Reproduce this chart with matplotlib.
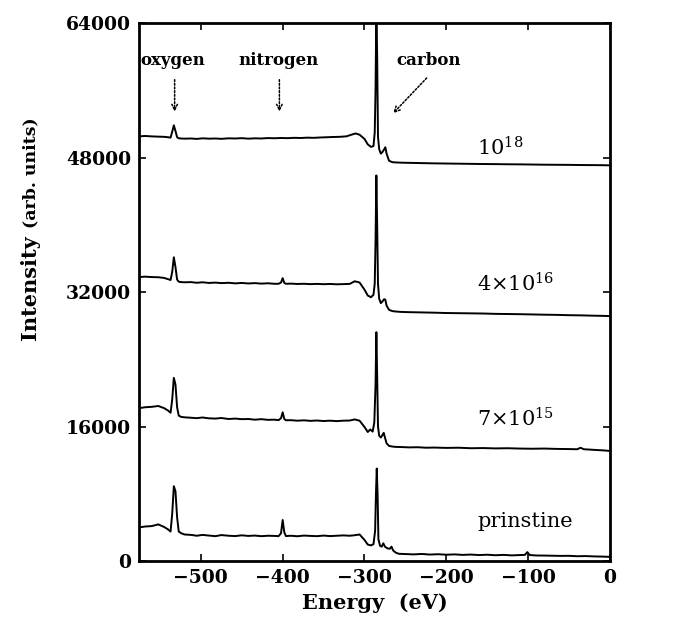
import matplotlib
matplotlib.use("Agg")
import matplotlib.pyplot as plt

# ---------------- data ----------------
# pristine
e_pristine = [-575, -568, -560, -552, -545, -540, -537, -535, -533, -531, -529, -527, -524, -520,
              -512, -505, -498, -490, -482, -475, -466, -458, -450, -442, -434, -426, -418, -410,
              -405, -402, -400, -398, -396, -390, -382, -374, -366, -358, -350, -342, -334, -326,
              -318, -312, -306, -300, -296, -292, -289, -287, -286, -285, -284, -283, -281, -279,
              -277, -275, -272, -269, -267, -265, -262, -258, -250, -240, -230, -220, -210, -200,
              -190, -180, -170, -160, -150, -140, -130, -120, -110, -104, -101, -98, -90, -80, -70,
              -60, -50, -40, -30, -20, -10, -4, 0]
i_pristine = [4000, 4100, 4150, 4350, 4050, 3750, 3500, 5600, 8900, 8300, 5200, 3500, 3300, 3150,
              3100, 3000, 3100, 3020, 2950, 3080, 3000, 2960, 3050, 2980, 3020, 2950, 3000, 2980,
              2950, 3300, 4880, 3400, 2960, 3000, 2940, 3020, 2980, 2950, 3020, 2960, 3000, 3040,
              3000, 3060, 3150, 2500, 1950, 1850, 2000, 3600, 8000, 11000, 8000, 2600, 1800, 1700,
              2100, 1700, 1500, 1450, 1700, 1250, 1000, 850, 820, 780, 830, 760, 800, 740,
              780, 720, 760, 700, 740, 680, 720, 660, 700, 720, 1050, 700, 650, 640, 620,
              600, 610, 560, 580, 540, 520, 500, 480]

# 7x10^15
e_7e15 = [-575, -568, -560, -552, -545, -540, -537, -535, -533, -531, -529, -527, -524, -520,
          -512, -505, -498, -490, -482, -475, -466, -458, -450, -442, -434, -426, -418, -410,
          -405, -402, -400, -398, -396, -390, -382, -374, -366, -358, -350, -342, -334, -326,
          -318, -312, -306, -300, -296, -293, -290, -288, -286.5, -285.5, -284.5, -283.5, -282,
          -280, -278, -276.5, -275, -273, -270, -266, -262, -255, -245, -235, -225, -215, -200,
          -185, -170, -155, -140, -125, -110, -95, -80, -65, -50, -40, -36, -32, -25, -15, -6, 0]
i_7e15 = [18200, 18300, 18350, 18450, 18200, 17900, 17650, 19200, 21800, 21000, 18300, 17300, 17150, 17100,
          17050, 17000, 17080, 16980, 16950, 17020, 16900, 16950, 16880, 16900, 16820, 16880, 16800, 16820,
          16760, 17000, 17700, 16900, 16750, 16760, 16700, 16740, 16680, 16720, 16660, 16700, 16650, 16700,
          16720, 16850, 16700, 15950, 15350, 15650, 15400, 16500, 21000, 27240, 22000, 16000, 14900,
          14700, 15000, 15250, 14700, 14000, 13700, 13620, 13580, 13560, 13520, 13540, 13480, 13500, 13460,
          13480, 13420, 13440, 13400, 13420, 13380, 13360, 13380, 13340, 13320, 13300, 13480, 13300, 13260, 13200, 13150, 13090]

# 4x10^16
e_4e16 = [-575, -568, -560, -552, -545, -540, -537, -535, -533, -531, -529, -527, -524, -520,
          -512, -505, -498, -490, -482, -475, -466, -458, -450, -442, -434, -426, -418, -410,
          -405, -402, -400, -398, -396, -390, -382, -374, -366, -358, -350, -342, -334, -326,
          -318, -312, -306, -300, -296, -292, -289, -287.5, -286.5, -285.5, -284.5, -283.5, -282,
          -280, -278, -276, -274.5, -273, -270, -266, -262, -255, -245, -235, -225, -215, -200,
          -185, -170, -155, -140, -125, -110, -95, -80, -65, -50, -35, -20, -8, 0]
i_4e16 = [33800, 33850, 33800, 33780, 33700, 33550, 33450, 34400, 36160, 35000, 33500, 33250, 33200, 33180,
          33200, 33120, 33180, 33100, 33140, 33080, 33120, 33050, 33100, 33040, 33080, 33020, 33060, 33000,
          33000, 33150, 33670, 33100, 33000, 33020, 32980, 33000, 32960, 32990, 32950, 32980, 32940, 32960,
          32990, 33300, 33150, 32300, 31600, 31400, 31700, 33000, 38000, 45900, 40000, 33000, 31200,
          30700, 30900, 31170, 31100, 30400, 29900, 29750, 29700, 29650, 29620, 29600, 29580, 29560, 29520,
          29500, 29480, 29460, 29420, 29400, 29380, 29350, 29320, 29300, 29260, 29240, 29200, 29180, 29150]

# 10^18
e_1e18 = [-575, -568, -560, -552, -545, -540, -537, -535, -533, -531, -529, -527, -524, -520,
          -512, -505, -498, -490, -482, -475, -466, -458, -450, -442, -434, -426, -418, -410,
          -402, -394, -386, -378, -370, -362, -354, -346, -338, -330, -322, -316, -311, -306,
          -300, -296, -292, -289, -287.5, -286.5, -285.5, -284.5, -283.5, -282, -280, -278, -276,
          -274.5, -273, -270, -266, -262, -255, -245, -235, -225, -215, -200, -185, -170, -155,
          -140, -125, -110, -95, -80, -65, -50, -35, -20, -8, 0]
i_1e18 = [50560, 50600, 50550, 50520, 50500, 50450, 50400, 51100, 51870, 51200, 50450, 50320, 50300, 50280,
          50300, 50250, 50320, 50280, 50300, 50260, 50320, 50300, 50340, 50280, 50320, 50300, 50350, 50330,
          50360, 50340, 50380, 50360, 50400, 50380, 50420, 50450, 50480, 50500, 50560, 50750, 50900, 50750,
          50250, 49600, 49300, 49400, 51000, 56000, 66000, 60000, 50500, 49000, 48500, 48700, 49000,
          49250, 48500, 47650, 47480, 47450, 47420, 47400, 47380, 47360, 47340, 47320, 47300, 47280, 47260,
          47250, 47230, 47220, 47200, 47180, 47170, 47160, 47140, 47130, 47120, 47100]

series = [(e_pristine, i_pristine), (e_7e15, i_7e15), (e_4e16, i_4e16), (e_1e18, i_1e18)]
sample_labels = ["prinstine", r"7$\times$10$^{15}$", r"4$\times$10$^{16}$", r"10$^{18}$"]
label_pos = [(-162, 4640), (-162, 16900), (-162, 33000), (-162, 49200)]

x_ticks = [-500, -400, -300, -200, -100, 0]
x_ticklabels = ["\u2212500", "\u2212400", "\u2212300", "\u2212200", "\u2212100", "0"]
y_ticks = [0, 16000, 32000, 48000, 64000]
y_ticklabels = ["0", "16000", "32000", "48000", "64000"]

element_names = ["oxygen", "nitrogen", "carbon"]
element_text_xy = [(-534, 59600), (-405, 59600), (-222, 59600)]
element_arrow_from = [(-532, 57300), (-404, 57300), (-224, 57500)]
element_arrow_to = [(-532, 53500), (-404, 53500), (-265, 53300)]

# ---------------- plotting ----------------
plt.rcParams['font.family'] = ['DejaVu Serif']
plt.rcParams['mathtext.fontset'] = 'dejavuserif'
plt.rcParams['mathtext.default'] = 'regular'

fig = plt.figure(figsize=(6.77, 6.25), dpi=100)
ax = fig.add_axes([0.206, 0.1025, 0.695, 0.86])

for e, i in series:
    ax.plot(e, i, color='black', lw=1.4, solid_joinstyle='round')

ax.set_xlim(-575, 0)
ax.set_ylim(0, 64000)
ax.set_xticks(x_ticks)
ax.set_xticklabels(x_ticklabels)
ax.set_yticks(y_ticks)
ax.set_yticklabels(y_ticklabels)
ax.tick_params(direction='in', top=True, right=True, length=5, width=1.2,
               labelsize=13.5, pad=6)
for lab in ax.get_xticklabels() + ax.get_yticklabels():
    lab.set_fontweight('bold')
for sp in ax.spines.values():
    sp.set_linewidth(2)

ax.set_xlabel("Energy  (eV)", fontsize=15, fontweight='bold', labelpad=4)
fig.text(0.045, 1 - 340 / 625, "Intensity", rotation=90, fontsize=15, fontweight='bold',
         ha='center', va='bottom')
fig.text(0.045, 1 - 228 / 625, "(arb. units)", rotation=90, fontsize=12.5, fontweight='bold',
         ha='center', va='bottom')

for (x, y), lab in zip(label_pos, sample_labels):
    ax.text(x, y, lab, fontsize=15, ha='left', va='center')

for name, txy, afrom, ato in zip(element_names, element_text_xy, element_arrow_from, element_arrow_to):
    ax.text(txy[0], txy[1], name, fontsize=12, fontweight='bold', ha='center', va='center')
    ax.annotate("", xy=ato, xytext=afrom,
                arrowprops=dict(arrowstyle='->', linestyle=(0, (1.2, 1.2)), lw=1.1, color='black',
                                mutation_scale=10, shrinkA=0, shrinkB=0))

fig.savefig("out.png", dpi=100)
